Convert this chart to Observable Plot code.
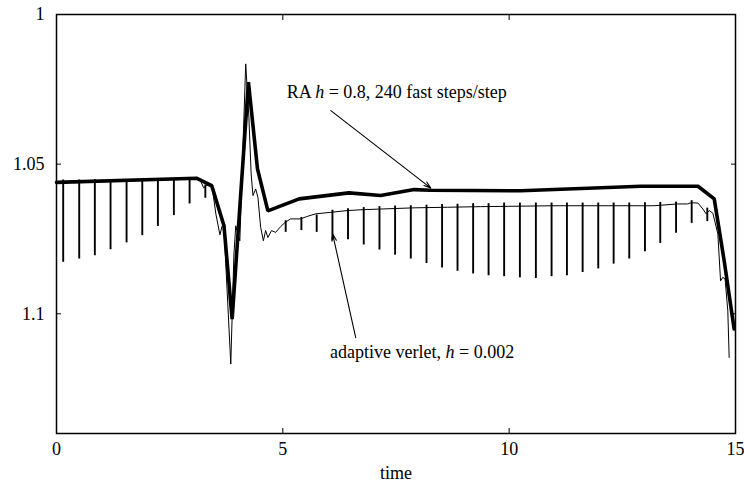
<!DOCTYPE html>
<html><head><meta charset="utf-8">
<script src="https://cdn.jsdelivr.net/npm/d3@7"></script>
<script src="https://cdn.jsdelivr.net/npm/@observablehq/plot@0.6"></script>
<style>
body{margin:0;background:#fff}
svg, svg text, svg tspan { font-family: "Liberation Serif", "Times New Roman", serif !important; }
</style>
</head><body><div id="chart"></div>
<script>
// RA h = 0.8 (thick line)
const thickT = [0, 3.09, 3.43, 3.70, 3.88, 4.24, 4.44, 4.67, 5.36, 6.46, 7.16, 7.90, 8.27, 10.26, 12.03, 12.91, 14.17, 14.53, 14.75, 14.97];
const thickY = [1.0561, 1.0547, 1.0572, 1.0706, 1.1018, 1.0226, 1.0516, 1.0656, 1.0616, 1.0596, 1.0605, 1.0585, 1.0587, 1.0589, 1.0579, 1.0574, 1.0574, 1.0616, 1.0823, 1.1051];

// adaptive verlet (thin line, baseline)
const thinT = [0, 3.07, 3.18, 3.25, 3.32, 3.44, 3.52, 3.61, 3.66, 3.70, 3.85, 3.92, 3.96, 4.05, 4.18, 4.25, 4.30, 4.34, 4.40, 4.45, 4.51, 4.57, 4.62, 4.67, 4.75, 4.84, 4.95, 5.04, 5.17, 5.39, 5.53, 5.73, 6.06, 6.43, 6.79, 7.16, 7.90, 8.64, 9.37, 10.48, 10.99, 12.47, 13.20, 13.72, 13.94, 14.02, 14.17, 14.28, 14.35, 14.42, 14.50, 14.61, 14.67, 14.72, 14.77, 14.83, 14.86];
const thinY = [1.0560, 1.0550, 1.0555, 1.0579, 1.0570, 1.0578, 1.0666, 1.0736, 1.0706, 1.0711, 1.1168, 1.0800, 1.0706, 1.0756, 1.0165, 1.0343, 1.0533, 1.0605, 1.0583, 1.0611, 1.0711, 1.0756, 1.0722, 1.0745, 1.0722, 1.0728, 1.0709, 1.0696, 1.0683, 1.0683, 1.0675, 1.0666, 1.0661, 1.0655, 1.0652, 1.0650, 1.0646, 1.0644, 1.0642, 1.0640, 1.0639, 1.0639, 1.0639, 1.0633, 1.0633, 1.0629, 1.0630, 1.0650, 1.0666, 1.0655, 1.0664, 1.0733, 1.0890, 1.0878, 1.0884, 1.0990, 1.1146];

// periodic downward spikes of the adaptive verlet curve
const spikeT = [0.148, 0.502, 0.847, 1.194, 1.548, 1.895, 2.240, 2.593, 2.940, 3.288,
  5.063, 5.410, 5.748, 6.096, 6.440, 6.787, 7.135, 7.480, 7.827, 8.174, 8.518, 8.859, 9.204, 9.545, 9.889, 10.237,
  10.590, 10.937, 11.276, 11.623, 11.968, 12.308, 12.653, 13.000, 13.338, 13.687, 14.032, 14.377];
const spikeTop = [1.0553, 1.0553, 1.0552, 1.0552, 1.0551, 1.0551, 1.0550, 1.0549, 1.0548, 1.0570,
  1.0689, 1.0678, 1.0670, 1.0654, 1.0649, 1.0645, 1.0642, 1.0640, 1.0639, 1.0637, 1.0635, 1.0634, 1.0632, 1.0632, 1.0630, 1.0630,
  1.0630, 1.0630, 1.0630, 1.0630, 1.0630, 1.0630, 1.0630, 1.0629, 1.0628, 1.0627, 1.0622, 1.0647];
const spikeBottom = [1.0828, 1.0817, 1.0806, 1.0786, 1.0763, 1.0739, 1.0708, 1.0672, 1.0633, 1.0614,
  1.0728, 1.0722, 1.0728, 1.0756, 1.0753, 1.0770, 1.0787, 1.0804, 1.0817, 1.0832, 1.0847, 1.0858, 1.0867, 1.0873, 1.0876, 1.0880,
  1.0882, 1.0876, 1.0873, 1.0862, 1.0850, 1.0834, 1.0817, 1.0793, 1.0765, 1.0731, 1.0698, 1.0692];

// annotations
const labelText = ["RA h = 0.8, 240 fast steps/step", "adaptive verlet, h = 0.002"];
const labelX = [5.085, 6.043];
const labelY = [1.0260, 1.1129];
const arrowX1 = [6.06, 6.61];
const arrowY1 = [1.0321, 1.1080];
const arrowX2 = [8.27, 6.10];
const arrowY2 = [1.0580, 1.0733];

const xTicks = [0, 5, 10, 15];
const yTicks = [1, 1.05, 1.1];

const FONT = "Liberation Serif";
const FS = 18;

const chart = Plot.plot({
  width: 744, height: 482,
  marginLeft: 56, marginRight: 9, marginTop: 14, marginBottom: 49,
  style: {fontFamily: FONT, fontSize: FS + "px", background: "#fff", color: "#000"},
  x: {domain: [0, 15]},
  y: {domain: [1, 1.14], reverse: true},
  marks: [
    Plot.line(thinT, {x: thinT, y: thinY, stroke: "#000", strokeWidth: 1}),
    Plot.ruleX(spikeT, {x: spikeT, y1: spikeTop, y2: spikeBottom, stroke: "#000", strokeWidth: 1.9}),
    Plot.line(thickT, {x: thickT, y: thickY, stroke: "#000", strokeWidth: 3.6, strokeLinejoin: "miter"}),
    Plot.arrow(arrowX1, {x1: arrowX1, y1: arrowY1, x2: arrowX2, y2: arrowY2, stroke: "#000", strokeWidth: 1.1, headLength: 10, headAngle: 36}),
    Plot.text(labelText, {x: labelX, y: labelY, text: labelText, textAnchor: "start", fill: "#000", fontSize: FS, fontFamily: FONT}),
    Plot.frame({stroke: "#000", strokeWidth: 1.5}),
    Plot.axisX({ticks: xTicks, tickSize: 0, tickPadding: 9, label: "time", labelAnchor: "center", labelArrow: "none", labelOffset: 45, fontFamily: FONT, fontSize: FS}),
    Plot.axisX({ticks: xTicks, tickSize: -5, text: null, label: null}),
    Plot.axisX({ticks: xTicks, anchor: "top", tickSize: -5, text: null, label: null}),
    Plot.axisY({ticks: yTicks, tickSize: 0, tickPadding: 12, tickFormat: d => String(d), label: null, fontFamily: FONT, fontSize: FS}),
    Plot.axisY({ticks: yTicks, tickSize: -5, text: null, label: null}),
    Plot.axisY({ticks: yTicks, anchor: "right", tickSize: -5, text: null, label: null})
  ]
});
document.getElementById("chart").appendChild(chart);

// italic "h" inside annotation labels
d3.select(chart).selectAll("text").each(function() {
  const s = this.textContent;
  const i = s.indexOf(" h = ");
  if (i < 0) return;
  const sel = d3.select(this);
  sel.text(null);
  sel.append("tspan").text(s.slice(0, i + 1));
  sel.append("tspan").attr("font-style", "italic").text("h");
  sel.append("tspan").text(s.slice(i + 2));
});
</script>
</body></html>
